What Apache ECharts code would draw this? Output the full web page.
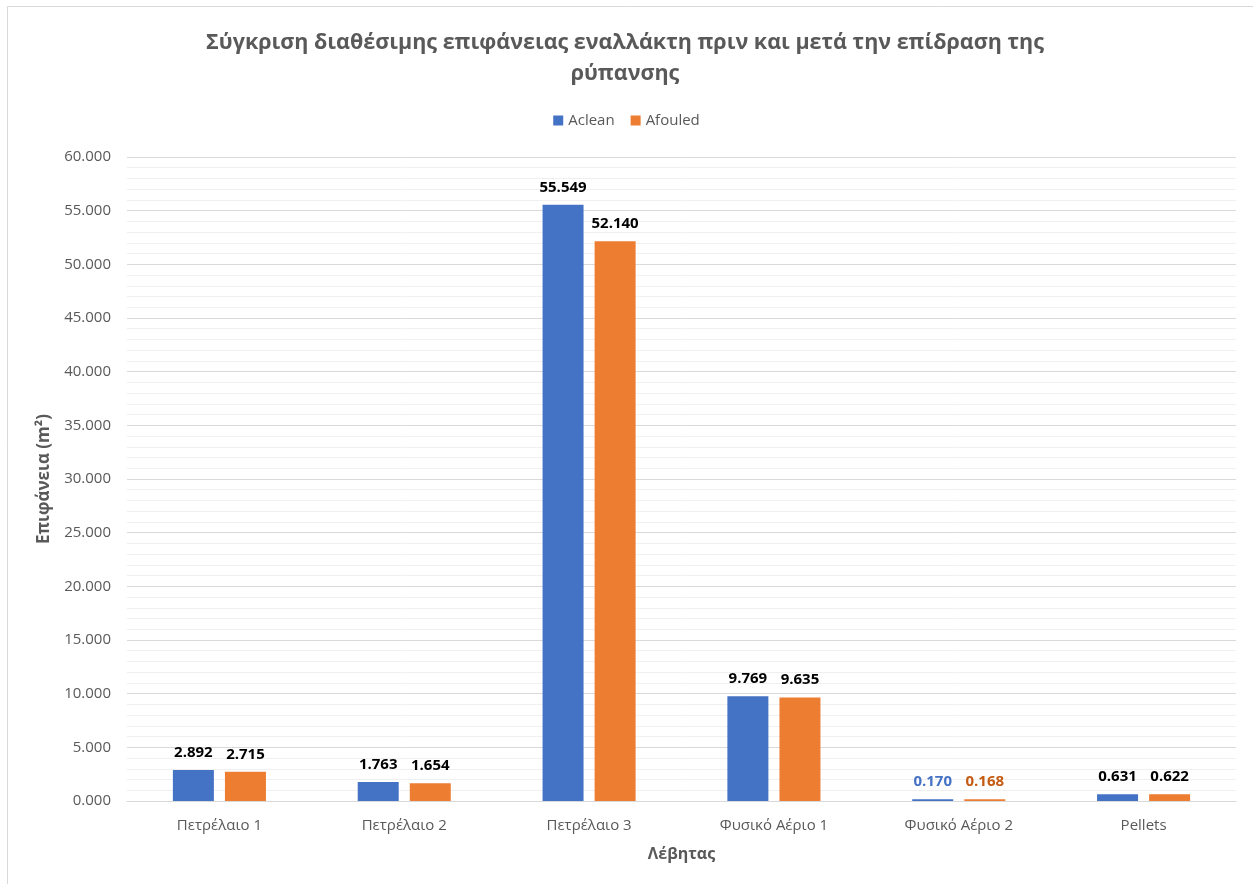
<!DOCTYPE html>
<html>
<head>
<meta charset="utf-8">
<script src="https://cdn.jsdelivr.net/npm/echarts@6/dist/echarts.min.js"></script>
<style>
  html, body { margin: 0; padding: 0; background: #fff; }
  #chart { width: 1253px; height: 884px; }
</style>
</head>
<body>
<div id="chart"></div>
<script>
// Boiler types (categories)
const categories = ['Πετρέλαιο 1', 'Πετρέλαιο 2', 'Πετρέλαιο 3', 'Φυσικό Αέριο 1', 'Φυσικό Αέριο 2', 'Pellets'];
// Available exchanger surface, clean vs fouled (m²)
const aClean = [2.892, 1.763, 55.549, 9.769, 0.170, 0.631];
const aFouled = [2.715, 1.654, 52.140, 9.635, 0.168, 0.622];
const seriesNames = ['Aclean', 'Afouled'];

const FONT = '"Open Sans", "Noto Sans", sans-serif';
const BLUE = '#4472C4';
const ORANGE = '#ED7D31';

// Labels for 'Φυσικό Αέριο 2' are drawn in the series colour, others in black
function labelColor(idx, seriesColor) {
  return idx === 4 ? seriesColor : '#000000';
}

function makeData(values, textColor) {
  return values.map((v, i) => ({
    value: v,
    label: { color: labelColor(i, textColor) }
  }));
}

const chart = echarts.init(document.getElementById('chart'), null, { renderer: 'canvas' });

const barLabel = {
  show: true,
  position: 'top',
  distance: 10,
  fontFamily: FONT,
  fontSize: 15,
  fontWeight: 'bold',
  formatter: p => p.value.toFixed(3)
};

chart.setOption({
  backgroundColor: '#ffffff',
  animation: false,
  textStyle: { fontFamily: FONT },
  graphic: [{
    type: 'rect',
    shape: { x: 7.5, y: 6.5, width: 1260, height: 890 },
    style: { fill: 'none', stroke: '#d9d9d9', lineWidth: 1 },
    silent: true,
    z: -1
  }],
  title: {
    text: 'Σύγκριση διαθέσιμης επιφάνειας εναλλάκτη πριν και μετά την επίδραση της\nρύπανσης',
    left: 620,
    textAlign: 'center',
    top: 22,
    textStyle: {
      fontFamily: FONT,
      fontSize: 21.5,
      fontWeight: 'bold',
      color: '#595959',
      lineHeight: 31
    }
  },
  legend: {
    data: seriesNames,
    top: 108,
    left: 'center',
    itemWidth: 10,
    itemHeight: 10,
    itemGap: 16,
    icon: 'rect',
    textStyle: { fontFamily: FONT, fontSize: 15, color: '#595959' }
  },
  grid: {
    left: 127,
    right: 17,
    top: 157,
    bottom: 83,
    containLabel: false
  },
  xAxis: {
    type: 'category',
    data: categories,
    name: 'Λέβητας',
    nameLocation: 'middle',
    nameGap: 45,
    nameTextStyle: { fontFamily: FONT, fontSize: 16, fontWeight: 'bold', color: '#595959' },
    axisLine: { show: true, lineStyle: { color: '#d9d9d9', width: 1 } },
    axisTick: { show: false },
    axisLabel: { fontFamily: FONT, fontSize: 15, color: '#595959', margin: 17 }
  },
  yAxis: {
    type: 'value',
    min: 0,
    max: 60,
    interval: 5,
    name: 'Επιφάνεια (m²)',
    nameLocation: 'middle',
    nameGap: 74,
    nameRotate: 90,
    nameTextStyle: { fontFamily: FONT, fontSize: 17, fontWeight: 'bold', color: '#595959' },
    axisLine: { show: false },
    axisTick: { show: false },
    axisLabel: {
      fontFamily: FONT,
      fontSize: 15,
      color: '#595959',
      margin: 16,
      formatter: v => v.toFixed(3)
    },
    splitLine: { show: true, lineStyle: { color: '#d9d9d9', width: 1 } },
    minorTick: { show: false, splitNumber: 5 },
    minorSplitLine: { show: true, lineStyle: { color: '#f0f0f0', width: 1 } }
  },
  series: [
    {
      name: seriesNames[0],
      type: 'bar',
      data: makeData(aClean, BLUE),
      barWidth: 41,
      barGap: '27%',
      itemStyle: { color: BLUE },
      label: barLabel
    },
    {
      name: seriesNames[1],
      type: 'bar',
      data: makeData(aFouled, '#C55A11'),
      barWidth: 41,
      barGap: '27%',
      itemStyle: { color: ORANGE },
      label: barLabel
    }
  ]
});
</script>
</body>
</html>
